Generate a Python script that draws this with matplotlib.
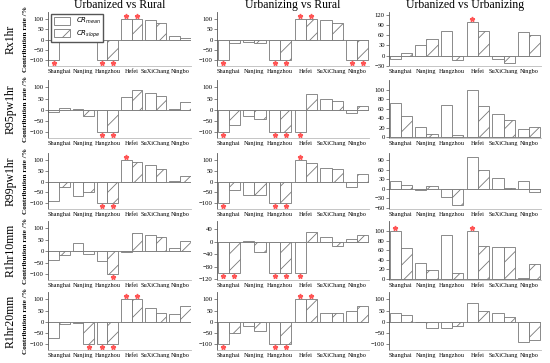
import numpy as np
import matplotlib.pyplot as plt
from matplotlib.patches import Patch

plt.rcParams['font.family'] = ['Liberation Serif', 'DejaVu Serif']
plt.rcParams['hatch.linewidth'] = 0.6
plt.rcParams['hatch.color'] = '#555555'

cities = ['Shanghai', 'Nanjing', 'Hangzhou', 'Hefei', 'SuXiChang', 'Ningbo']
col_titles = ['Urbanized vs Rural', 'Urbanizing vs Rural', 'Urbanized vs Urbanizing']
row_names = ['Rx1hr', 'R95pw1hr', 'R99pw1hr', 'R1hr10mm', 'R1hr20mm']

# CR_mean / CR_slope per row, one list per column
rx1hr_mean = [[-100, 25, -100, 100, 95, 18],
              [-100, -10, -100, 100, 95, -100],
              [-10, 32, 72, 100, -10, 70]]
rx1hr_slope = [[-5, 20, -100, 100, 78, 10],
               [-18, -18, -100, 100, 82, -100],
               [8, 48, -12, 72, -22, 60]]
r95_mean = [[-10, 2, -100, 58, 75, 2],
            [-100, -28, -100, -100, 48, -15],
            [72, 22, 68, 100, 49, 17]]
r95_slope = [[8, -30, -100, 90, 60, 35],
             [-70, -40, -100, 72, 40, 15],
             [45, 7, 5, 66, 37, 22]]
r99_mean = [[-88, -65, -100, 100, 78, 2],
            [-100, -60, -100, 100, 65, -25],
            [25, -5, -25, 100, 35, 23]]
r99_slope = [[-25, -50, -100, 92, 60, 25],
             [-40, -62, -100, 85, 60, 35],
             [13, 7, -52, 60, 1, -12]]
r10_mean = [[-38, 38, -45, -5, 72, 12],
            [-100, 3, -100, -100, 15, 10],
            [100, 34, 93, 100, 66, 1]]
r10_slope = [[-18, -12, -100, 80, 62, 45],
             [-100, -33, -100, 30, -15, 20],
             [64, 18, 12, 68, 66, 30]]
r20_mean = [[-75, -5, -100, 100, 60, 35],
            [-100, -20, -100, 100, 40, 50],
            [40, 0, -30, 85, 40, -90]]
r20_slope = [[-10, -100, -100, 100, 40, 70],
             [-50, -40, -100, 100, 40, 70],
             [30, -30, -20, 50, 20, -80]]

# significant cities (red asterisk), by index
rx1hr_sig_mean = [[0, 2, 3], [0, 2, 3, 5], [3]]
rx1hr_sig_slope = [[2, 3], [2, 3, 5], []]
r95_sig_mean = [[2], [0, 2, 3], []]
r95_sig_slope = [[2], [2], []]
r99_sig_mean = [[2, 3], [0, 2, 3], []]
r99_sig_slope = [[2], [2], []]
r10_sig_mean = [[], [0, 2, 3], [0, 3]]
r10_sig_slope = [[2], [0, 2], []]
r20_sig_mean = [[2, 3], [0, 2, 3], []]
r20_sig_slope = [[1, 2, 3], [2, 3], []]

means = [rx1hr_mean, r95_mean, r99_mean, r10_mean, r20_mean]
slopes = [rx1hr_slope, r95_slope, r99_slope, r10_slope, r20_slope]
sig_means = [rx1hr_sig_mean, r95_sig_mean, r99_sig_mean, r10_sig_mean, r20_sig_mean]
sig_slopes = [rx1hr_sig_slope, r95_sig_slope, r99_sig_slope, r10_sig_slope, r20_sig_slope]

std_lim = (-127, 133)
std_ticks = [-100, -50, 0, 50, 100]
ylims = [[std_lim, std_lim, (-31, 129)],
         [std_lim, std_lim, (-2, 121)],
         [std_lim, std_lim, (-64, 112)],
         [std_lim, (-122, 66), (-3, 122)],
         [std_lim, std_lim, std_lim]]
yticks = [[std_ticks, std_ticks, [-30, 0, 30, 60, 90, 120]],
          [std_ticks, std_ticks, [0, 20, 40, 60, 80, 100]],
          [std_ticks, std_ticks, [-60, -30, 0, 30, 60, 90]],
          [std_ticks, [-120, -80, -40, 0, 40], [0, 20, 40, 60, 80, 100]],
          [std_ticks, std_ticks, std_ticks]]

W, H = 550, 363
fig = plt.figure(figsize=(W / 100, H / 100), dpi=100)

cols_x = [(48, 191), (217, 369), (389, 541)]
rows_y = [(12, 66), (80, 138), (153, 209), (221, 280), (292, 350)]

x = np.arange(len(cities))
bw = 0.44
edge = '#777777'
star = '#ff5555'

for r in range(5):
    for c in range(3):
        l, rr = cols_x[c]
        t, b = rows_y[r]
        ax = fig.add_axes([l / W, 1 - b / H, (rr - l) / W, (b - t) / H])
        m = np.array(means[r][c])
        s = np.array(slopes[r][c])
        ax.bar(x - bw / 2, m, bw, color='white', edgecolor=edge, lw=0.6, zorder=2)
        ax.bar(x + bw / 2, s, bw, color='white', edgecolor=edge, lw=0.6,
               hatch='//', zorder=2)
        y0, y1 = ylims[r][c]
        ax.set_ylim(y0, y1)
        ax.set_xlim(-0.46, 5.46)
        off = 0.05 * (y1 - y0)
        for i in sig_means[r][c]:
            v = m[i]
            ax.plot(i - bw / 2, v + np.sign(v) * off, marker='*', ms=3.5,
                    color=star, mec=star, zorder=3, clip_on=False)
        for i in sig_slopes[r][c]:
            v = s[i]
            ax.plot(i + bw / 2, v + np.sign(v) * off, marker='*', ms=3.5,
                    color=star, mec=star, zorder=3, clip_on=False)
        ax.axhline(0, color='#777777', lw=0.6, zorder=1)
        ax.set_yticks(yticks[r][c])
        ax.set_xticks(x)
        ax.set_xticklabels(cities)
        ax.tick_params(axis='y', labelsize=4.8, length=2, width=0.5, pad=1,
                       color='#555555')
        ax.tick_params(axis='x', labelsize=4.5, length=0, pad=2)
        for sp in ['top', 'right']:
            ax.spines[sp].set_visible(False)
        ax.spines['left'].set_color('#555555')
        ax.spines['left'].set_linewidth(0.6)
        ax.spines['bottom'].set_color('#bbbbbb')
        ax.spines['bottom'].set_linewidth(0.6)
        if c == 0:
            ax.set_ylabel('Contribution rate /%', fontsize=5.2, fontweight='bold',
                          labelpad=1.5)
        if r == 0:
            ax.set_title(col_titles[c], fontsize=8.5, pad=3)
        if r == 0 and c == 0:
            handles = [Patch(facecolor='white', edgecolor=edge, lw=0.6),
                       Patch(facecolor='white', edgecolor=edge, lw=0.6, hatch='//')]
            ax.legend(handles, [r'$CR_{mean}$', r'$CR_{slope}$'], loc='upper left',
                      bbox_to_anchor=(0.0, 1.03), fontsize=5, frameon=True,
                      fancybox=False, edgecolor='#555555', handlelength=2.4,
                      handleheight=1.4, borderpad=0.3, labelspacing=0.3,
                      framealpha=1)

for r in range(5):
    t, b = rows_y[r]
    fig.text(11 / W, 1 - (t + b) / 2 / H, row_names[r], rotation=90,
             fontsize=8.5, ha='center', va='center')

fig.savefig('out.png', dpi=100)
